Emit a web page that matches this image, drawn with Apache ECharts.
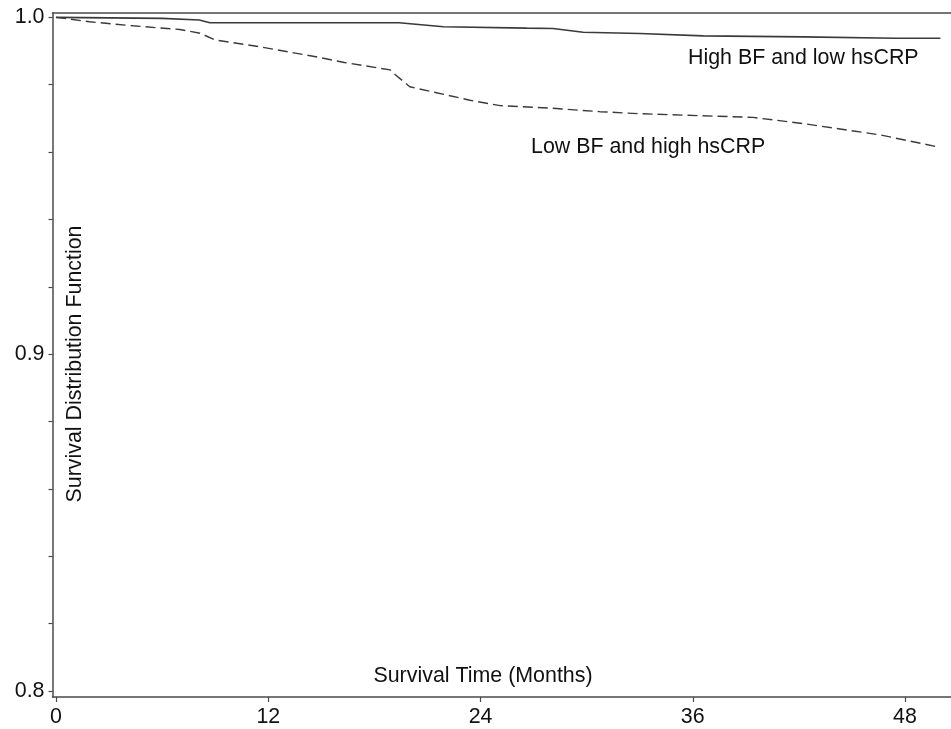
<!DOCTYPE html>
<html><head><meta charset="utf-8">
<script src="https://cdn.jsdelivr.net/npm/echarts@6/dist/echarts.min.js"></script>
<style>html,body{margin:0;padding:0;background:#fff}#c{width:951px;height:729px}</style>
</head><body><div id="c"></div>
<script>
// Data
const highBFMonths = [0, 6.0, 8.1, 8.7, 19.4, 21.9, 26.6, 28.1, 29.8, 33.0, 36.6, 42.2, 47.5, 50.0];
const highBFSurv   = [1.0, 0.9997, 0.9992, 0.9984, 0.9984, 0.9972, 0.9968, 0.9967, 0.9956, 0.9952, 0.9945, 0.9942, 0.9938, 0.9938];
const lowBFMonths  = [0, 1.9, 4.35, 7.0, 8.14, 9.0, 11.5, 14.9, 16.3, 18.9, 19.2, 20.0, 23.4, 25.1, 28.1, 30.75, 33.0, 39.4, 42.2, 46.6, 49.8];
const lowBFSurv    = [1.0, 0.9987, 0.9975, 0.9964, 0.9953, 0.9933, 0.9913, 0.9881, 0.9866, 0.9844, 0.9829, 0.9794, 0.9754, 0.9738, 0.9730, 0.9720, 0.9714, 0.9703, 0.9685, 0.9651, 0.9616];
const xTicks = [0, 12, 24, 36, 48];
const yLabels = [0.8, 0.9, 1.0];
const yMinorTicks = [0.8, 0.82, 0.84, 0.86, 0.88, 0.9, 0.92, 0.94, 0.96, 0.98, 1.0];
const xTitle = 'Survival Time (Months)';
const yTitle = 'Survival Distribution Function';
const labelHigh = 'High BF and low hsCRP';
const labelLow = 'Low BF and high hsCRP';

const chart = echarts.init(document.getElementById('c'), null, {renderer: 'canvas'});
const font = 'Liberation Sans, Arial, sans-serif';
const fs = 21.4;
const axisCol = '#4a4a4a';
const txt = '#111';
const X_MIN = -0.2, X_MAX = 50.6;
chart.setOption({
  animation: false,
  backgroundColor: '#fff',
  grid: {left: 52.5, right: 0, top: 13, bottom: 32, show: false},
  xAxis: [{
    type: 'value', min: X_MIN, max: X_MAX,
    axisLine: {show: true, onZero: false, lineStyle: {color: axisCol, width: 1.5}},
    axisTick: {show: true, length: 5, lineStyle: {color: axisCol, width: 1.2}, customValues: xTicks},
    axisLabel: {customValues: xTicks, color: txt, fontFamily: font, fontSize: fs, margin: 10},
    splitLine: {show: false}
  }, {
    type: 'value', position: 'top', min: X_MIN, max: X_MAX,
    axisLine: {show: true, onZero: false, lineStyle: {color: axisCol, width: 1.5}},
    axisTick: {show: false}, axisLabel: {show: false}, splitLine: {show: false}
  }],
  yAxis: {
    type: 'value', min: 0.7982, max: 1.0013,
    axisLine: {show: true, onZero: false, lineStyle: {color: axisCol, width: 1.5}},
    axisTick: {show: true, length: 4, lineStyle: {color: axisCol, width: 1.2}, customValues: yMinorTicks},
    axisLabel: {customValues: yLabels, color: txt, fontFamily: font, fontSize: fs, margin: 8,
      padding: [5, 0, 0, 0],
      formatter: v => Number(v).toFixed(1)},
    splitLine: {show: false}
  },
  series: [
    {type: 'line', name: labelHigh, xAxisIndex: 0, data: highBFMonths.map((m, i) => [m, highBFSurv[i]]),
     symbol: 'none', lineStyle: {color: '#3a3a3a', width: 1.6, type: 'solid'}},
    {type: 'line', name: labelLow, xAxisIndex: 0, data: lowBFMonths.map((m, i) => [m, lowBFSurv[i]]),
     symbol: 'none', lineStyle: {color: '#3a3a3a', width: 1.4, type: [10, 5]}}
  ],
  graphic: [
    {type: 'text', x: 483, y: 676, style: {text: xTitle, font: fs + 'px ' + font, fill: txt, textAlign: 'center', textVerticalAlign: 'middle'}},
    {type: 'text', x: 75.5, y: 364, rotation: Math.PI / 2, style: {text: yTitle, font: fs + 'px ' + font, fill: txt, textAlign: 'center', textVerticalAlign: 'middle'}},
    {type: 'text', x: 688, y: 58, style: {text: labelHigh, font: fs + 'px ' + font, fill: txt, textAlign: 'left', textVerticalAlign: 'middle'}},
    {type: 'text', x: 531, y: 147, style: {text: labelLow, font: fs + 'px ' + font, fill: txt, textAlign: 'left', textVerticalAlign: 'middle'}}
  ]
});
</script></body></html>
